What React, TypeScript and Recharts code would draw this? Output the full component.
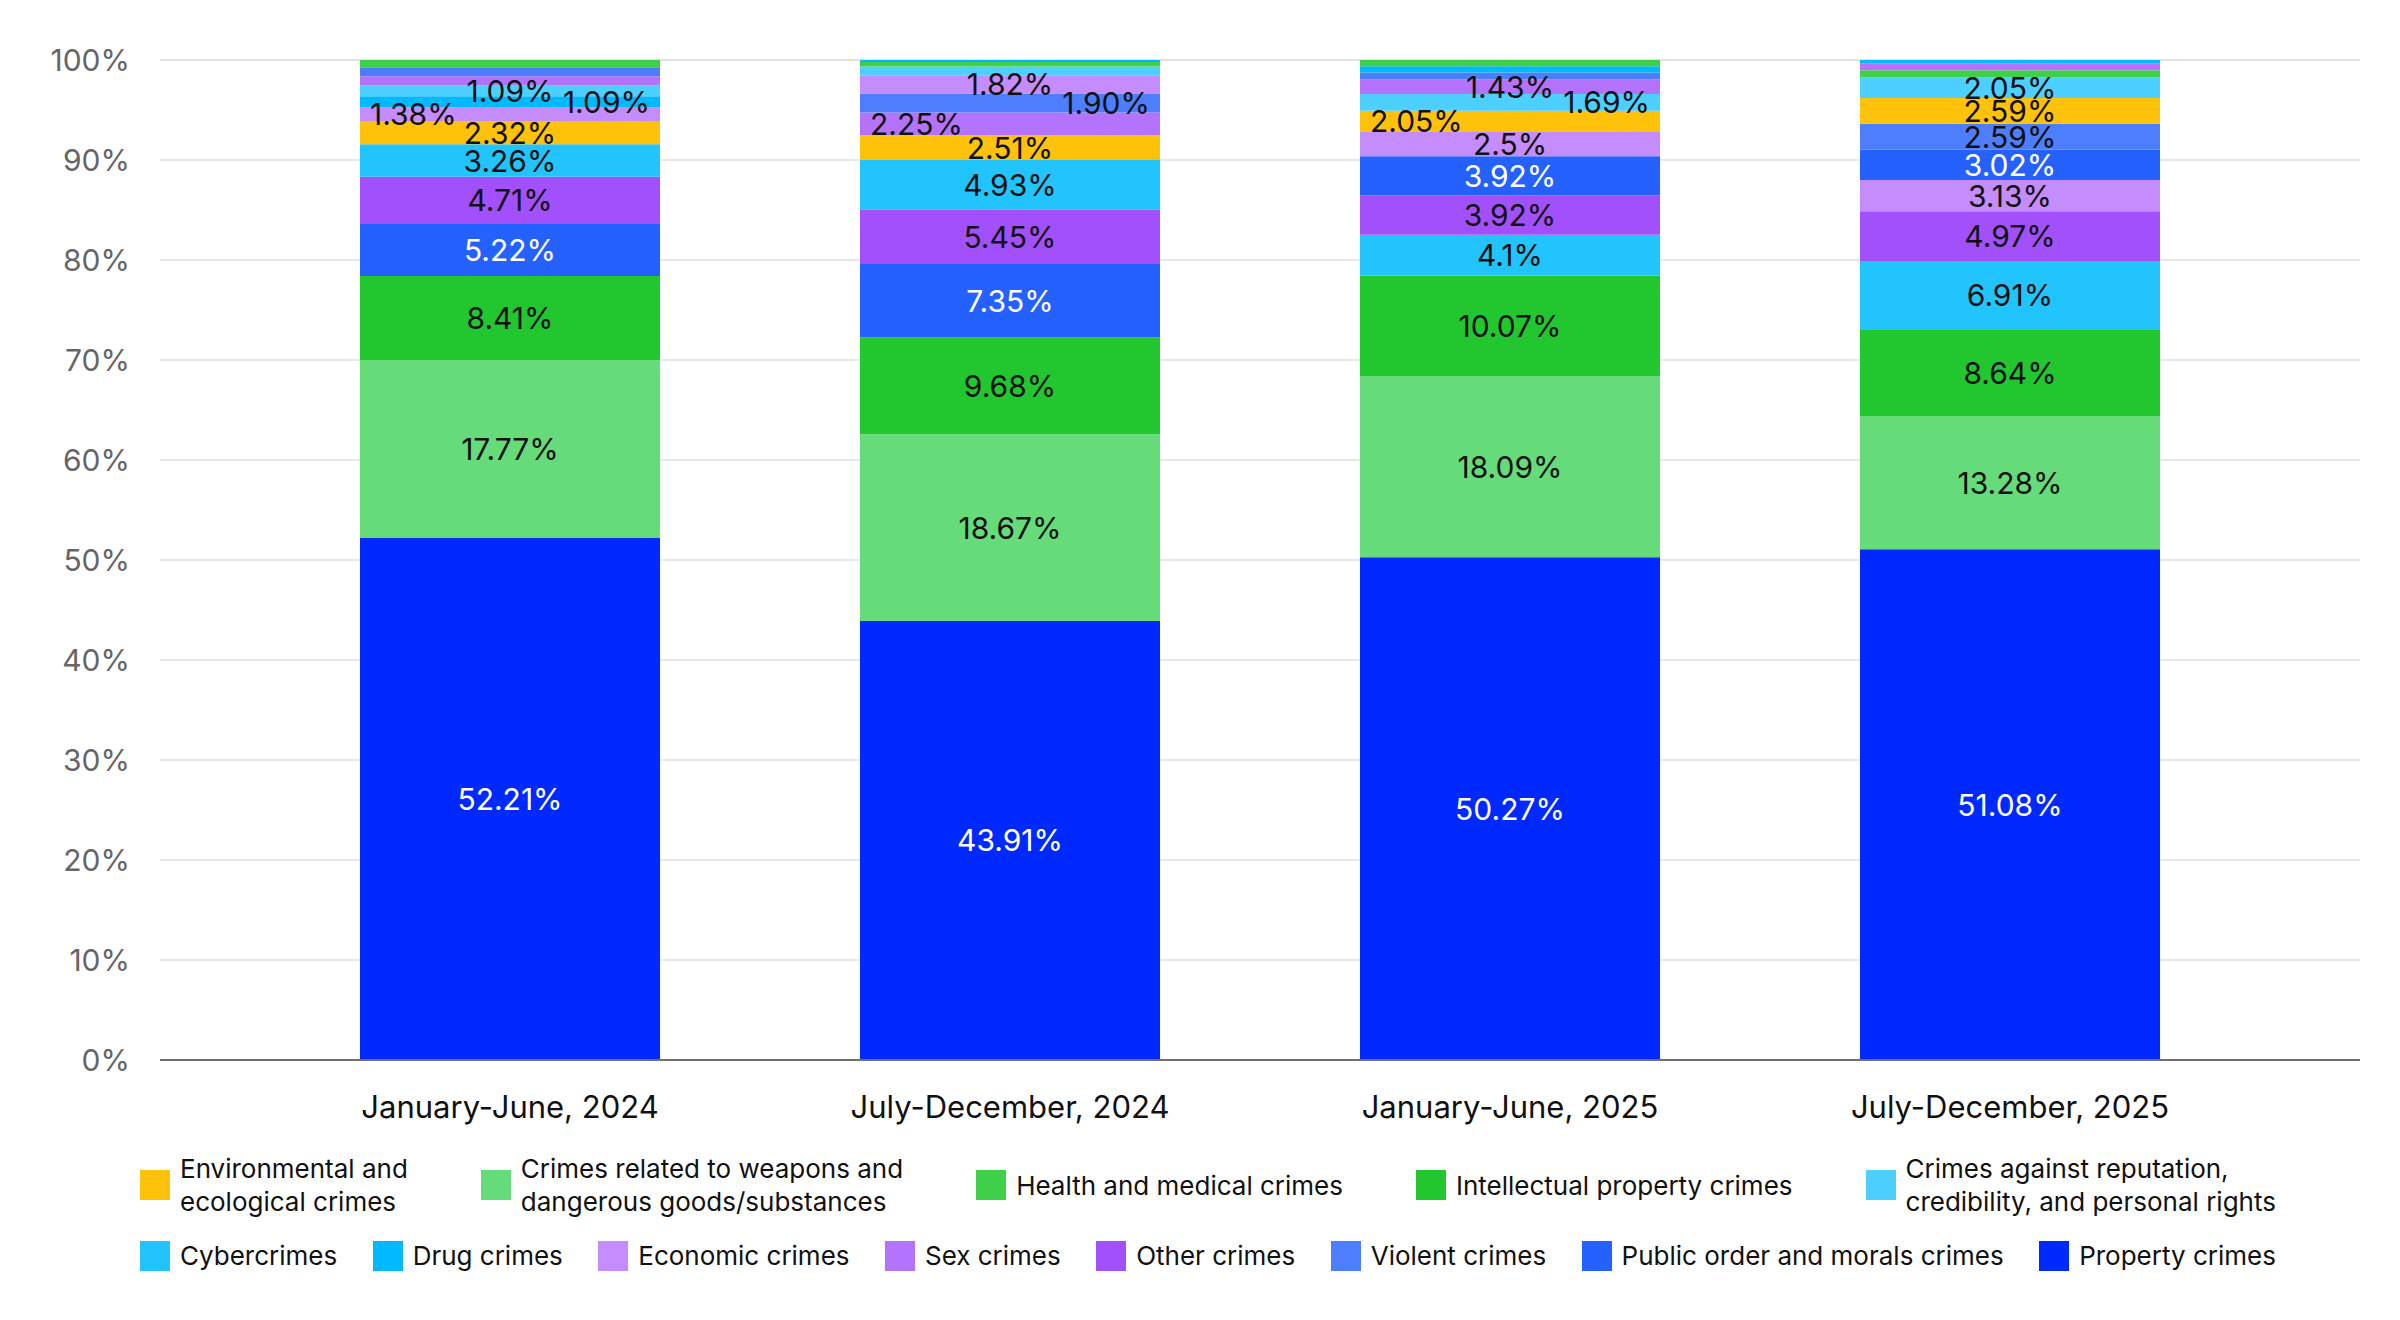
import React from 'react';
import {
  BarChart,
  Bar,
  Cell,
  XAxis,
  YAxis,
  CartesianGrid,
  LabelList,
} from 'recharts';

const periods = [
  'January-June, 2024',
  'July-December, 2024',
  'January-June, 2025',
  'July-December, 2025',
];

// shares in percent, one entry per period (kept as text so labels keep their own formatting)
const property = ['52.21', '43.91', '50.27', '51.08'];
const weapons = ['17.77', '18.67', '18.09', '13.28'];
const intellectual = ['8.41', '9.68', '10.07', '8.64'];
const cyber = ['3.26', '4.93', '4.1', '6.91'];
const other = ['4.71', '5.45', '3.92', '4.97'];
const publicOrder = ['5.22', '7.35', '3.92', '3.02'];
const economic = ['1.38', '1.82', '2.5', '3.13'];
const violent = ['0.90', '1.90', '0.72', '2.59'];
const environmental = ['2.32', '2.51', '2.05', '2.59'];
const drug = ['1.09', '0.20', '0.62', '0.32'];
const reputation = ['1.09', '0.88', '1.69', '2.05'];
const sex = ['0.92', '2.25', '1.43', '0.70'];
const health = ['0.72', '0.45', '0.62', '0.72'];

type Category = {
  key: string;
  name: string;
  color: string;
  values: string[];
  light?: boolean; // white label text
};

// list order breaks ties when segments are sorted inside a bar
const categories: Category[] = [
  { key: 'property', name: 'Property crimes', color: '#0029FF', values: property, light: true },
  { key: 'weapons', name: 'Crimes related to weapons and\ndangerous goods/substances', color: '#66DB79', values: weapons },
  { key: 'intellectual', name: 'Intellectual property crimes', color: '#22C72F', values: intellectual },
  { key: 'cyber', name: 'Cybercrimes', color: '#21C4FC', values: cyber },
  { key: 'other', name: 'Other crimes', color: '#A24FFC', values: other },
  { key: 'publicOrder', name: 'Public order and morals crimes', color: '#2461FF', values: publicOrder, light: true },
  { key: 'economic', name: 'Economic crimes', color: '#C48CFC', values: economic },
  { key: 'violent', name: 'Violent crimes', color: '#4D7EFF', values: violent },
  { key: 'environmental', name: 'Environmental and\necological crimes', color: '#FFC20A', values: environmental },
  { key: 'drug', name: 'Drug crimes', color: '#00B9FF', values: drug },
  { key: 'reputation', name: 'Crimes against reputation,\ncredibility, and personal rights', color: '#4DD0FF', values: reputation },
  { key: 'sex', name: 'Sex crimes', color: '#B373FC', values: sex },
  { key: 'health', name: 'Health and medical crimes', color: '#3FD04A', values: health },
];

const legendRows = [
  ['environmental', 'weapons', 'health', 'intellectual', 'reputation'],
  ['cyber', 'drug', 'economic', 'sex', 'other', 'violent', 'publicOrder', 'property'],
];

// crowded small labels pushed to the bar edges
const SIDE: Record<string, 'left' | 'right'> = {
  '0:economic': 'left',
  '0:drug': 'right',
  '1:sex': 'left',
  '1:violent': 'right',
  '2:environmental': 'left',
  '2:reputation': 'right',
};

// each bar stacks its segments largest first, so rank k holds a different category per bar
const ranked: Category[][] = periods.map((_, i) =>
  [...categories].sort((a, b) => parseFloat(b.values[i]) - parseFloat(a.values[i]))
);

const rows = periods.map((period, i) => {
  const row: Record<string, string | number> = { period };
  ranked[i].forEach((c, k) => {
    row[`r${k}`] = parseFloat(c.values[i]);
  });
  return row;
});

const makeLabel = (k: number) => (props: any) => {
  const { index } = props;
  const x = Number(props.x);
  const y = Number(props.y);
  const width = Number(props.width);
  const height = Number(props.height);
  const cat = ranked[index]?.[k];
  if (!cat) return null;
  const raw = cat.values[index];
  if (parseFloat(raw) < 1) return null;
  const side = SIDE[`${index}:${cat.key}`];
  let tx = x + width / 2;
  let anchor: 'start' | 'middle' | 'end' = 'middle';
  if (side === 'left') {
    tx = x + 10;
    anchor = 'start';
  } else if (side === 'right') {
    tx = x + width - 10;
    anchor = 'end';
  }
  return (
    <text
      x={tx}
      y={y + height / 2}
      textAnchor={anchor}
      dominantBaseline="central"
      fontSize={30}
      fill={cat.light ? '#ffffff' : '#111111'}
    >
      {raw}%
    </text>
  );
};

const byKey = (key: string) => categories.find((c) => c.key === key)!;

function LegendRow({ keys, top }: { keys: string[]; top: number }) {
  return (
    <div
      style={{
        position: 'absolute',
        left: 140,
        top,
        width: 2136,
        display: 'flex',
        justifyContent: 'space-between',
        alignItems: 'center',
      }}
    >
      {keys.map((key) => {
        const c = byKey(key);
        return (
          <div key={key} style={{ display: 'flex', alignItems: 'center' }}>
            <span
              style={{ width: 30, height: 30, background: c.color, marginRight: 10, flex: 'none' }}
            />
            <span
              style={{ fontSize: 26, lineHeight: '33px', color: '#111', whiteSpace: 'pre-line' }}
            >
              {c.name}
            </span>
          </div>
        );
      })}
    </div>
  );
}

export default function App() {
  return (
    <div
      style={{
        position: 'absolute',
        left: 0,
        top: 0,
        width: 2400,
        height: 1320,
        background: '#fff',
        fontFamily: 'Inter, sans-serif',
      }}
    >
      <BarChart
        width={2400}
        height={1140}
        data={rows}
        margin={{ top: 60, right: 40, bottom: 10, left: 0 }}
        barCategoryGap={100}
      >
        <CartesianGrid vertical={false} stroke="#e2e2e2" strokeWidth={1.5} />
        <XAxis
          dataKey="period"
          padding={{ left: 100, right: 100 }}
          height={70}
          tickLine={false}
          tickSize={0}
          tickMargin={36}
          axisLine={{ stroke: '#707070', strokeWidth: 2 }}
          tick={{ fill: '#111', fontSize: 31 }}
        />
        <YAxis
          domain={[0, 100]}
          ticks={[0, 10, 20, 30, 40, 50, 60, 70, 80, 90, 100]}
          tickFormatter={(v) => `${v}%`}
          width={160}
          axisLine={false}
          tickLine={false}
          tickSize={0}
          tickMargin={30}
          tick={{ fill: '#666', fontSize: 30 }}
        />
        {categories.map((_, k) => (
          <Bar key={k} dataKey={`r${k}`} stackId="share" isAnimationActive={false}>
            {rows.map((_, i) => (
              <Cell key={i} fill={ranked[i][k].color} />
            ))}
            <LabelList dataKey={`r${k}`} content={makeLabel(k)} />
          </Bar>
        ))}
      </BarChart>
      <LegendRow keys={legendRows[0]} top={1152} />
      <LegendRow keys={legendRows[1]} top={1239} />
    </div>
  );
}
